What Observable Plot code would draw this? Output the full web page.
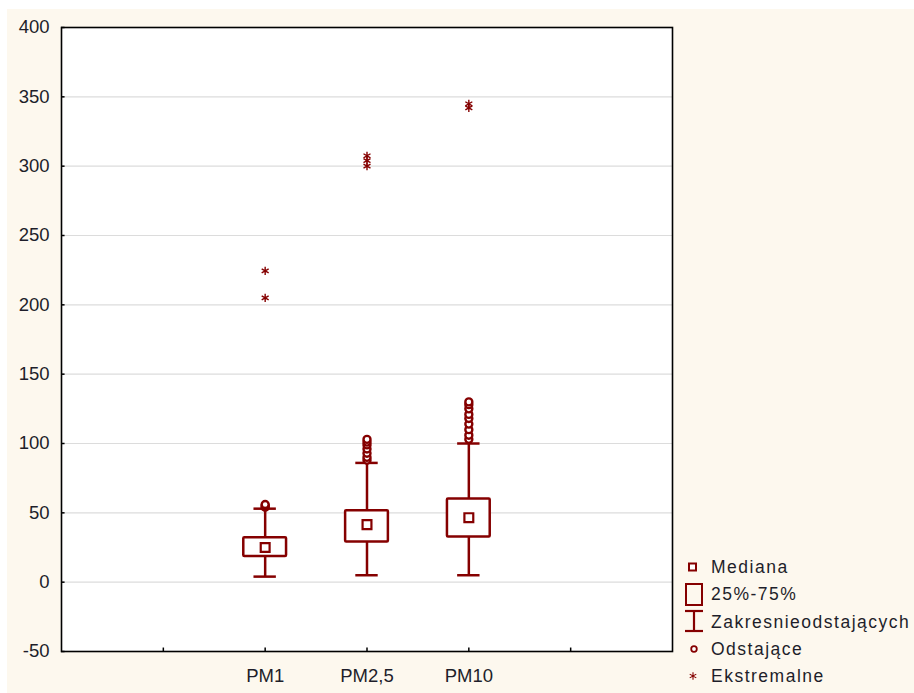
<!DOCTYPE html>
<html>
<head>
<meta charset="utf-8">
<script src="https://cdn.jsdelivr.net/npm/d3@7"></script>
<script src="https://cdn.jsdelivr.net/npm/@observablehq/plot@0.6"></script>
<style>
  html, body { margin: 0; padding: 0; background: #ffffff; }
  #wrap { position: relative; width: 914px; height: 693px; overflow: hidden; background: #ffffff; }
  #bg { position: absolute; left: 7px; top: 9px; width: 907px; height: 684px; background: #fdf8ee; }
  #chart { position: absolute; left: 0; top: 0; }
  #legend { position: absolute; left: 0; top: 0; }
</style>
</head>
<body>
<div id="wrap"><div id="bg"></div><div id="chart"></div><svg id="legend" width="914" height="693"></svg></div>
<script>
const categories = ["PM1", "PM2,5", "PM10"];
const whiskerLow = [4, 5, 5];
const q1 = [18.5, 29, 32.5];
const median = [25, 41.5, 46.5];
const q3 = [32, 51.5, 60];
const whiskerHigh = [53, 86, 100];
const outliersPM1 = [54, 55, 56];
const outliersPM25 = [88, 90, 93, 96, 99, 101, 103];
const outliersPM10 = [103, 106, 110, 114, 118, 121, 125, 128, 130];
const extremesPM1 = [205, 224.5];
const extremesPM25 = [300, 304, 307.5];
const extremesPM10 = [342, 345];
const yTicks = [-50, 0, 50, 100, 150, 200, 250, 300, 350, 400];
const xTickSlots = [1, 2, 3, 4, 5];
const legendLabels = ["Mediana", "25%-75%", "Zakresnieodstających", "Odstające", "Ekstremalne"];

const RED = "#850000";
const TXT = "#1e1e2a";
const FONT = "'Liberation Sans', Arial, sans-serif";

const boxes = categories.map((c, i) => ({
  cat: c, pos: i + 2, lo: whiskerLow[i], q1: q1[i], med: median[i], q3: q3[i], hi: whiskerHigh[i]
}));
const outl = [outliersPM1, outliersPM25, outliersPM10].flatMap((arr, i) => arr.map(v => ({pos: i + 2, v})));
const extr = [extremesPM1, extremesPM25, extremesPM10].flatMap((arr, i) => arr.map(v => ({pos: i + 2, v})));
const labels = categories.map((c, i) => ({pos: i + 2, label: c}));

const chart = Plot.plot({
  width: 914,
  height: 693,
  marginLeft: 61,
  marginTop: 27,
  marginRight: 242,
  marginBottom: 42,
  style: {background: "transparent", fontFamily: FONT},
  x: {domain: [0, 6], axis: null},
  y: {domain: [-50, 400], axis: null},
  marks: [
    Plot.frame({fill: "white", stroke: null}),
    Plot.ruleY(yTicks.filter(t => t > -50 && t < 400), {stroke: "#dcdcdc", strokeWidth: 1.2}),
    Plot.ruleY(yTicks, {x1: 0, x2: 0.035, stroke: "black", strokeWidth: 1.5}),
    Plot.ruleX(xTickSlots, {y1: -50, y2: -47.5, stroke: "black", strokeWidth: 1.5}),
    Plot.text(yTicks, {x: 0, y: d => d, text: d => String(d), textAnchor: "end", dx: -12, dy: 0,
      fontSize: 18.5, fill: TXT, style: "letter-spacing:1.6px"}),
    Plot.text(labels, {x: "pos", y: -50, text: "label", dy: 25, fontSize: 18.5, fill: TXT,
      textAnchor: "middle", style: "letter-spacing:3px"}),
    Plot.ruleX(boxes, {x: "pos", y1: "lo", y2: "q1", stroke: RED, strokeWidth: 2.5}),
    Plot.ruleX(boxes, {x: "pos", y1: "q3", y2: "hi", stroke: RED, strokeWidth: 2.5}),
    Plot.ruleY(boxes, {y: "lo", x1: d => d.pos - 0.11, x2: d => d.pos + 0.11, stroke: RED, strokeWidth: 2.5}),
    Plot.ruleY(boxes, {y: "hi", x1: d => d.pos - 0.11, x2: d => d.pos + 0.11, stroke: RED, strokeWidth: 2.5}),
    Plot.rect(boxes, {x1: d => d.pos - 0.21, x2: d => d.pos + 0.21, y1: "q1", y2: "q3",
      fill: "white", stroke: RED, strokeWidth: 2.5, rx: 1}),
    Plot.dot(boxes, {x: "pos", y: "med", symbol: "square", r: 5, fill: "white", stroke: RED, strokeWidth: 2.2}),
    Plot.dot(outl, {x: "pos", y: "v", r: 3.5, fill: "white", stroke: RED, strokeWidth: 2.4}),
    Plot.dot(extr, {x: "pos", y: "v", symbol: "asterisk", r: 3.8, stroke: RED, strokeWidth: 1.4}),
    Plot.frame({stroke: "black", strokeWidth: 1.6})
  ]
});
document.getElementById("chart").appendChild(chart);

// legend
const lg = d3.select("#legend");
const rowsY = [567, 594, 622, 649, 676];
const textX = 711;
legendLabels.forEach((t, i) => {
  lg.append("text").attr("x", textX).attr("y", rowsY[i]).attr("dy", "0.36em")
    .attr("font-family", FONT).attr("font-size", 17.5).attr("fill", TXT)
    .style("letter-spacing", "1.5px").text(t);
});
lg.append("rect").attr("x", 689).attr("y", rowsY[0] - 3.5).attr("width", 7).attr("height", 7)
  .attr("fill", "white").attr("stroke", RED).attr("stroke-width", 2);
lg.append("rect").attr("x", 686).attr("y", 584).attr("width", 16).attr("height", 21)
  .attr("fill", "none").attr("stroke", RED).attr("stroke-width", 2);
lg.append("line").attr("x1", 685).attr("x2", 703).attr("y1", 611).attr("y2", 611).attr("stroke", RED).attr("stroke-width", 2.2);
lg.append("line").attr("x1", 685).attr("x2", 703).attr("y1", 631).attr("y2", 631).attr("stroke", RED).attr("stroke-width", 2.2);
lg.append("line").attr("x1", 694).attr("x2", 694).attr("y1", 611).attr("y2", 631).attr("stroke", RED).attr("stroke-width", 2.2);
lg.append("circle").attr("cx", 694).attr("cy", rowsY[3]).attr("r", 2.8).attr("fill", "white").attr("stroke", RED).attr("stroke-width", 1.8);
lg.append("path").attr("d", d3.symbol(d3.symbolAsterisk, 40)()).attr("transform", `translate(693,${rowsY[4]})`)
  .attr("fill", "none").attr("stroke", RED).attr("stroke-width", 1.1);
</script>
</body>
</html>
